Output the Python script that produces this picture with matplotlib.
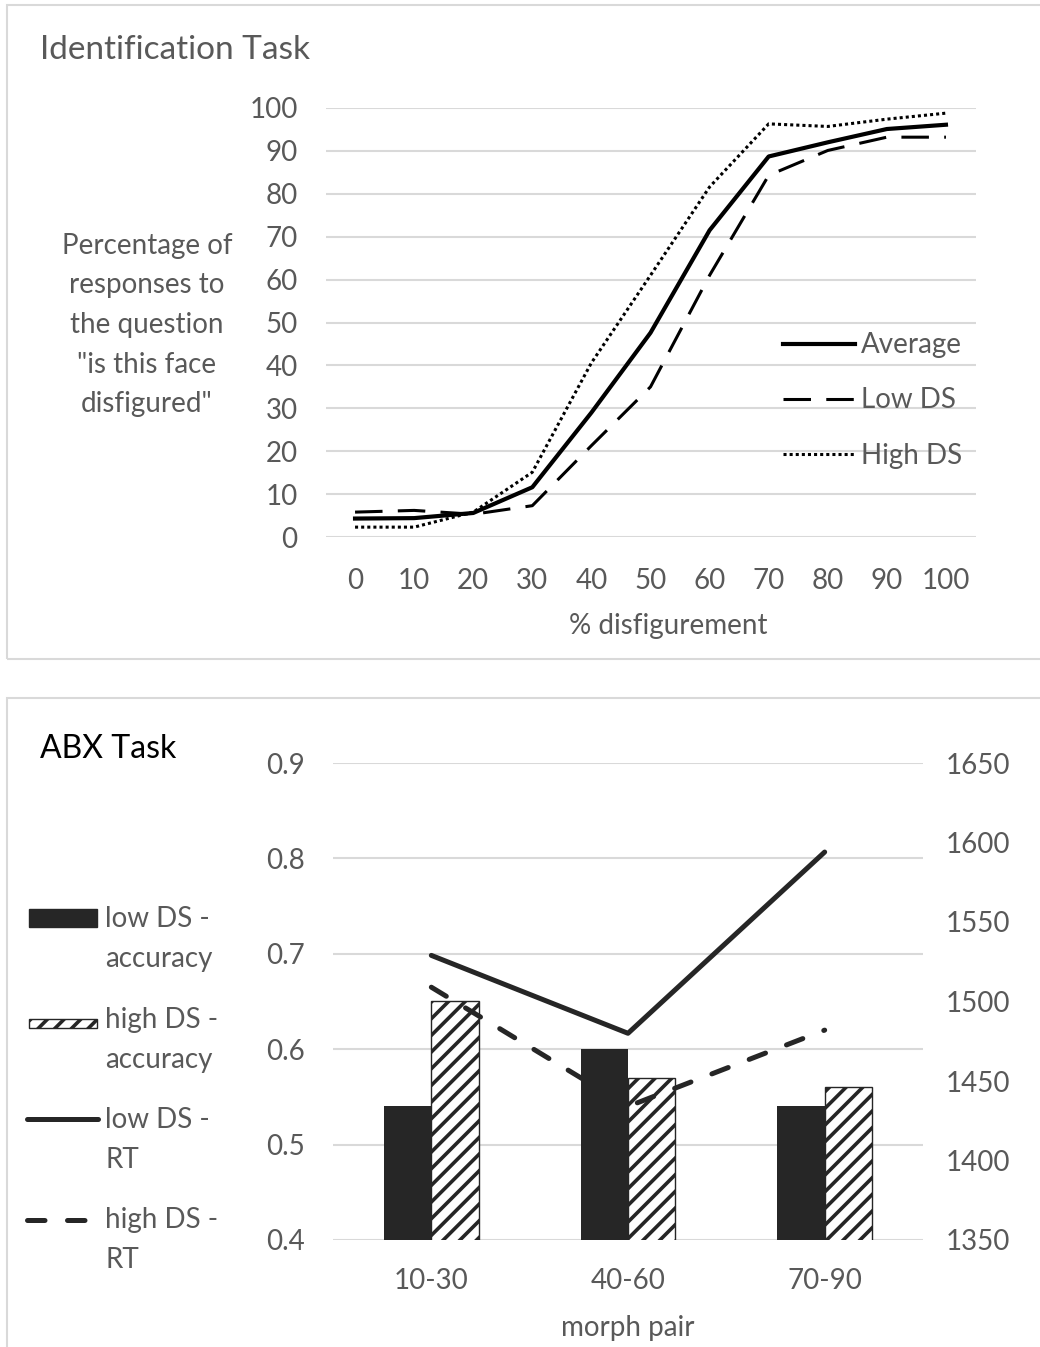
import matplotlib
matplotlib.use("Agg")
import matplotlib.pyplot as plt
import numpy as np
from matplotlib.lines import Line2D
from matplotlib.patches import Rectangle

plt.rcParams['font.family'] = ['Lato', 'DejaVu Sans']
plt.rcParams['hatch.linewidth'] = 2.6

W, H = 1040, 1347
GREY = '#595959'
GRID = '#d9d9d9'
DARK = '#262626'

# --- Identification task: % "disfigured" responses per morph level ---
morph_levels = [0, 10, 20, 30, 40, 50, 60, 70, 80, 90, 100]
avg_resp = [4.3, 4.4, 5.6, 11.6, 29.0, 47.6, 71.5, 88.7, 92.0, 95.1, 96.1]
low_ds_resp = [5.8, 6.2, 5.3, 7.3, 21.3, 35.0, 61.0, 84.3, 90.1, 93.2, 93.2]
high_ds_resp = [2.3, 2.3, 5.8, 15.1, 40.6, 61.0, 81.6, 96.3, 95.7, 97.4, 98.8]

# --- ABX task: accuracy (left axis) and RT (right axis) ---
morph_pairs = ['10-30', '40-60', '70-90']
low_ds_acc = [0.54, 0.60, 0.54]
high_ds_acc = [0.65, 0.57, 0.56]
low_ds_rt = [1529, 1480, 1594]
high_ds_rt = [1509, 1434, 1482]


def fx(x):
    return x / W


def fy(y):
    return 1 - y / H


fig = plt.figure(figsize=(W / 100, H / 100), dpi=100)

# panel frames
for x0, y0, x1, y1 in [(7, 5, 1045, 659), (7, 698, 1045, 1352)]:
    fig.patches.append(Rectangle((fx(x0), fy(y1)), (x1 - x0) / W, (y1 - y0) / H,
                                 transform=fig.transFigure, fill=False,
                                 edgecolor=GRID, linewidth=1.5))

# ---------------- Identification task ----------------
ax1 = fig.add_axes([fx(325.5), fy(537), 650 / W, 429 / H])
ax1.plot(morph_levels, avg_resp, color='black', lw=3, label='Average')
ax1.plot(morph_levels, low_ds_resp, color='black', lw=2.2,
         linestyle=(0, (9, 5)), label='Low DS')
ax1.plot(morph_levels, high_ds_resp, color='black', lw=2.2,
         linestyle=(0, (1, 1)), label='High DS')
ax1.set_xlim(-5, 105)
ax1.set_ylim(0, 100)
ax1.set_xticks(morph_levels)
ax1.set_yticks(range(0, 101, 10))
ax1.yaxis.grid(True, color=GRID, lw=1.5)
ax1.set_axisbelow(True)
for s in ax1.spines.values():
    s.set_visible(False)
ax1.tick_params(axis='both', length=0, colors=GREY, labelsize=20)
ax1.tick_params(axis='y', pad=20)
ax1.tick_params(axis='x', pad=22)
ax1.legend(loc='center left', bbox_to_anchor=(fx(783), fy(400.5)),
           bbox_transform=fig.transFigure, frameon=False, fontsize=20,
           handlelength=2.6, handletextpad=0.2, labelspacing=1.05,
           borderpad=0, borderaxespad=0, labelcolor=GREY)

fig.text(fx(40), fy(50), 'Identification Task', va='center', fontsize=24, color=GREY)
fig.text(fx(147), fy(325), 'Percentage of\nresponses to\nthe question\n"is this face\ndisfigured"',
         ha='center', va='center', multialignment='center', linespacing=1.65,
         fontsize=20, color=GREY)
fig.text(fx(668), fy(626), '% disfigurement', ha='center', va='center',
         fontsize=20, color=GREY)

# ---------------- ABX task ----------------
idx = np.arange(len(morph_pairs))
bw = 0.24
ax2 = fig.add_axes([fx(333), fy(1240), 590 / W, 477 / H])
ax2.bar(idx - bw / 2, low_ds_acc, bw, color=DARK)
ax2.bar(idx + bw / 2, high_ds_acc, bw, color='white', edgecolor=DARK,
        hatch='//', lw=1)
ax2.set_xlim(-0.5, 2.5)
ax2.set_ylim(0.4, 0.9)
ax2.set_yticks(np.arange(0.4, 0.91, 0.1))
ax2.set_yticklabels([f'{v:.1f}' for v in np.arange(0.4, 0.91, 0.1)])
ax2.set_xticks(idx)
ax2.set_xticklabels(morph_pairs)
ax2.yaxis.grid(True, color=GRID, lw=1.5)
ax2.set_axisbelow(True)
for s in ax2.spines.values():
    s.set_visible(False)
ax2.tick_params(axis='both', length=0, colors=GREY, labelsize=20)
ax2.tick_params(axis='y', pad=20)
ax2.tick_params(axis='x', pad=20)

ax3 = ax2.twinx()
ax3.plot(idx, low_ds_rt, color=DARK, lw=3.6, solid_capstyle='round')
ax3.plot(idx, high_ds_rt, color=DARK, lw=3.6, linestyle=(0, (3.5, 4.5)),
         dash_capstyle='round')
ax3.set_ylim(1350, 1650)
ax3.set_yticks(range(1350, 1651, 50))
for s in ax3.spines.values():
    s.set_visible(False)
ax3.tick_params(axis='y', length=0, colors=GREY, labelsize=20, pad=16)

fig.text(fx(40), fy(758), 'ABX Task', va='baseline', fontsize=23, color='black')
fig.text(fx(628), fy(1328), 'morph pair', ha='center', va='center',
         fontsize=20, color=GREY)

# legend for ABX panel, drawn by hand to get Excel's layout
fig.patches.append(Rectangle((fx(29), fy(927)), 68 / W, 18 / H,
                             transform=fig.transFigure, facecolor=DARK, edgecolor=DARK))
fig.patches.append(Rectangle((fx(29), fy(1028)), 68 / W, 9 / H,
                             transform=fig.transFigure, facecolor='white',
                             edgecolor=DARK, hatch='//', lw=1))
fig.lines.append(Line2D([fx(27), fx(98)], [fy(1119)] * 2, transform=fig.transFigure,
                        color=DARK, lw=3.6, solid_capstyle='round'))
fig.lines.append(Line2D([fx(27), fx(98)], [fy(1220)] * 2, transform=fig.transFigure,
                        color=DARK, lw=3.6, linestyle=(0, (3.5, 4.5)),
                        dash_capstyle='round'))
legend_labels = [('low DS -', 'accuracy'), ('high DS -', 'accuracy'),
                 ('low DS -', 'RT'), ('high DS -', 'RT')]
for (first, second), base in zip(legend_labels, [927, 1028, 1128, 1228]):
    fig.text(fx(105), fy(base), first, va='baseline', fontsize=20, color=GREY)
    fig.text(fx(105), fy(base + 40), second, va='baseline', fontsize=20, color=GREY)

fig.savefig('out.png', dpi=100)
